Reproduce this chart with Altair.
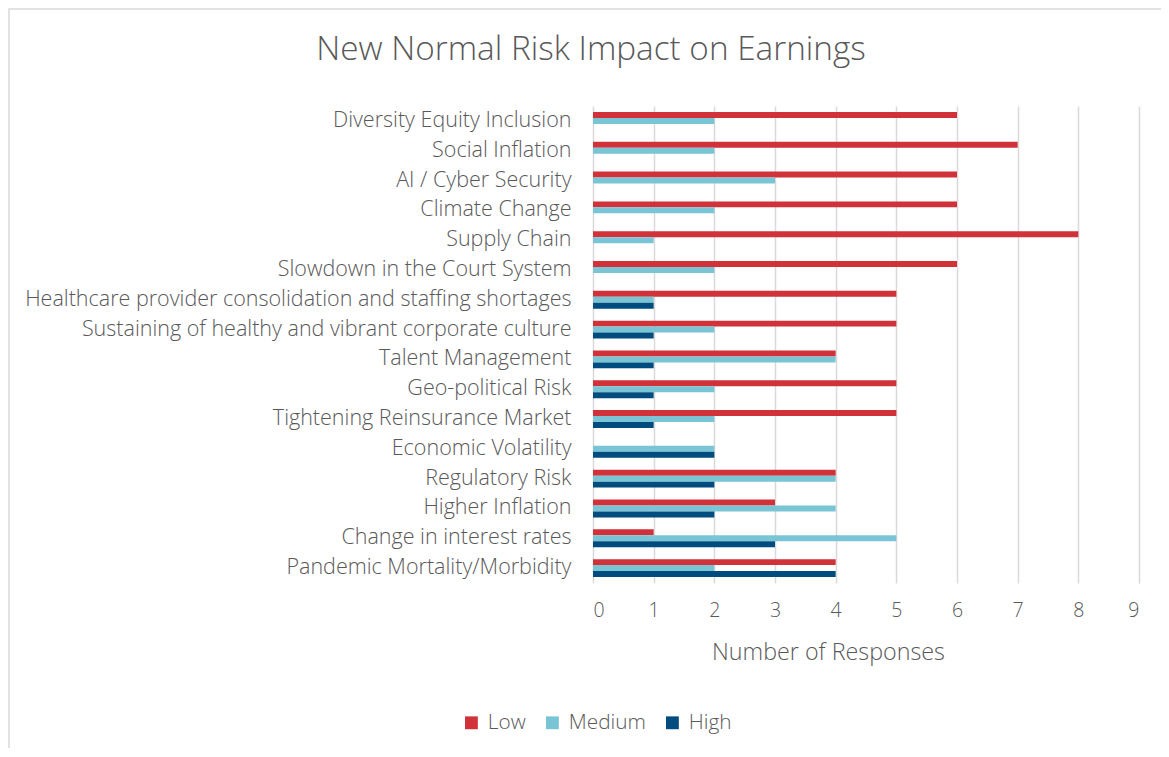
import altair as alt
import pandas as pd

title_text = "New Normal Risk Impact on Earnings"
categories = [
    "Diversity Equity Inclusion",
    "Social Inflation",
    "AI / Cyber Security",
    "Climate Change",
    "Supply Chain",
    "Slowdown in the Court System",
    "Healthcare provider consolidation and staffing shortages",
    "Sustaining of healthy and vibrant corporate culture",
    "Talent Management",
    "Geo-political Risk",
    "Tightening Reinsurance Market",
    "Economic Volatility",
    "Regulatory Risk",
    "Higher Inflation",
    "Change in interest rates",
    "Pandemic Mortality/Morbidity",
]
low = [6, 7, 6, 6, 8, 6, 5, 5, 4, 5, 5, 0, 4, 3, 1, 4]
medium = [2, 2, 3, 2, 1, 2, 1, 2, 4, 2, 2, 2, 4, 4, 5, 2]
high = [0, 0, 0, 0, 0, 0, 1, 1, 1, 1, 1, 2, 2, 2, 3, 4]
levels = ["Low", "Medium", "High"]
colors = ["#D13139", "#7AC5D5", "#004C7F"]

rows = []
for c, l, m, h in zip(categories, low, medium, high):
    for lev, v in zip(levels, [l, m, h]):
        if v > 0:
            rows.append({"Risk": c, "Level": lev, "Responses": v})
df = pd.DataFrame(rows)

TXT = "#595959"
FONT = "Open Sans"
W = 300

bars = alt.Chart(df).mark_bar().encode(
    y=alt.Y("Risk:N", sort=categories,
            scale=alt.Scale(paddingInner=0.4, paddingOuter=0.2),
            axis=alt.Axis(title=None, ticks=False, domain=False, labelFontSize=21.5,
                          labelColor=TXT, labelFont=FONT, labelFontWeight=W,
                          labelPadding=22, labelLimit=700, grid=False)),
    yOffset=alt.YOffset("Level:N", sort=levels),
    x=alt.X("Responses:Q", scale=alt.Scale(domain=[0, 9]),
            axis=alt.Axis(title="Number of Responses", values=list(range(10)),
                          tickCount=10, format="d", ticks=False, domain=False,
                          grid=True, gridColor="#D9D9D9", gridWidth=1.5,
                          labelFontSize=19.5, labelColor=TXT, labelFont=FONT,
                          labelFontWeight=W, labelPadding=18,
                          titleFontSize=23.3, titleColor=TXT, titleFont=FONT,
                          titleFontWeight=W, titlePadding=22, titleX=235)),
    color=alt.Color("Level:N", sort=levels,
                    scale=alt.Scale(domain=levels, range=colors),
                    legend=alt.Legend(title=None, orient="none", direction="horizontal",
                                      legendX=-132, legendY=606, symbolType="square",
                                      symbolSize=165, symbolStrokeWidth=0,
                                      labelFontSize=20.8, labelColor=TXT, labelFont=FONT,
                                      labelFontWeight=W, columnPadding=16, labelOffset=6)),
)

frame = alt.Chart(alt.Data(values=[{}])).mark_rect(
    fill=None, stroke="#D9D9D9", strokeWidth=1.5
).encode(
    x=alt.value(-584), x2=alt.value(800), y=alt.value(-97), y2=alt.value(900)
)

title = alt.Chart(alt.Data(values=[{"t": title_text}])).mark_text(
    font=FONT, fontSize=33.3, fontWeight=W, color=TXT, align="center", baseline="middle"
).encode(
    text="t:N", x=alt.value(-2), y=alt.value(-56)
)

chart = alt.layer(frame, bars, title).properties(
    width=546, height=477,
    padding={"left": 585, "top": 98, "right": 22, "bottom": 165},
    autosize=alt.AutoSizeParams(type="none"),
).configure_view(stroke=None)

chart.save("out.html", embed_options={"renderer": "svg", "actions": False})
